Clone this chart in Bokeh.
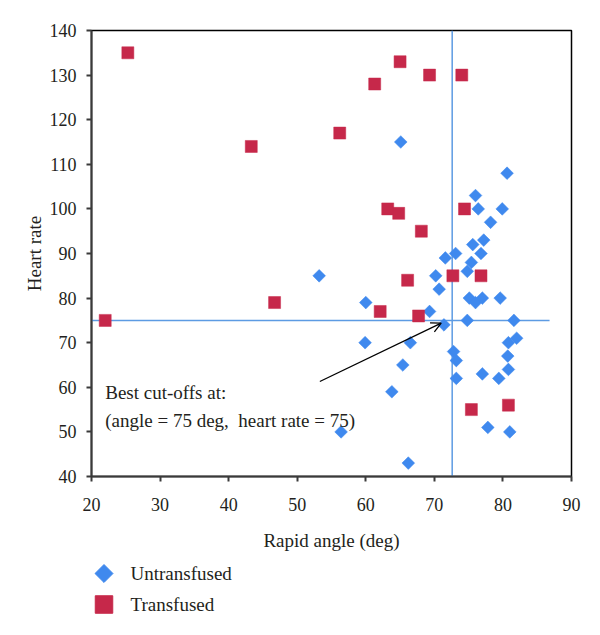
from bokeh.plotting import figure
from bokeh.layouts import column
from bokeh.models import (Label, Arrow, OpenHead, FixedTicker, ColumnDataSource,
                          Range1d)
from bokeh.core.properties import value
from bokeh.embed import file_html
from bokeh.resources import INLINE

# ---- data ----
untrans_angle = [65.1, 80.6, 76.0, 76.4, 79.9, 78.2, 77.2, 75.6, 76.8, 73.1,
                 71.6, 75.4, 74.8, 70.2, 53.2, 70.7, 75.1, 76.0, 77.0, 79.6,
                 60.0, 69.3, 71.4, 74.8, 81.6, 59.9, 66.5, 80.8, 82.0, 72.8,
                 73.2, 65.4, 80.7, 80.8, 77.0, 73.2, 79.4, 63.8, 77.8, 81.0,
                 56.4, 66.2]
untrans_hr = [115, 108, 103, 100, 100, 97, 93, 92, 90, 90,
              89, 88, 86, 85, 85, 82, 80, 79, 80, 80,
              79, 77, 74, 75, 75, 70, 70, 70, 71, 68,
              66, 65, 67, 64, 63, 62, 62, 59, 51, 50,
              50, 43]

trans_angle = [25.3, 43.3, 65.0, 61.3, 69.3, 74.0, 56.2, 63.2, 64.8, 68.1,
               74.4, 72.7, 76.8, 46.7, 66.1, 62.1, 67.7, 22.0, 75.4, 80.8]
trans_hr = [135, 114, 133, 128, 130, 130, 117, 100, 99, 95,
            100, 85, 85, 79, 84, 77, 76, 75, 55, 56]

series_names = ["Untransfused", "Transfused"]
cut_angle_drawn = 72.6
cut_hr = 75
hline_x_end = 86.8
x_ticks = [20, 30, 40, 50, 60, 70, 80, 90]
y_ticks = [40, 50, 60, 70, 80, 90, 100, 110, 120, 130, 140]
annot_line1 = "Best cut-offs at:"
annot_line2 = "(angle = 75 deg,\u00a0 heart rate = 75)"
arrow_from = (53.3, 61.3)
arrow_to = (71.0, 74.4)

FONT = "Liberation Serif"
TXT = "#231f20"
BLUE = "#3f89ee"
RED = "#c6284a"
LINE_BLUE = "#5d9be3"

W = 592
H_MAIN = 556
H_LEG = 71
B_LEFT = 91
B_RIGHT = 21

p = figure(width=W, height=H_MAIN, x_range=(20, 90), y_range=(40, 140),
           output_backend="svg", toolbar_location=None,
           min_border_left=B_LEFT, min_border_right=B_RIGHT, min_border_top=30,
           min_border_bottom=80)
p.xgrid.visible = False
p.ygrid.visible = False
p.outline_line_color = "black"
p.outline_line_width = 1.5
p.background_fill_color = "white"
p.border_fill_color = "white"

# cut-off lines (behind markers)
p.segment(x0=[cut_angle_drawn], y0=[y_ticks[0]], x1=[cut_angle_drawn], y1=[y_ticks[-1]],
          line_color=LINE_BLUE, line_width=1.5)
p.segment(x0=[x_ticks[0]], y0=[cut_hr], x1=[hline_x_end], y1=[cut_hr],
          line_color=LINE_BLUE, line_width=1.5)

src_u = ColumnDataSource(dict(x=untrans_angle, y=untrans_hr))
src_t = ColumnDataSource(dict(x=trans_angle, y=trans_hr))
p.scatter("x", "y", source=src_u, marker="square", size=9, angle=45,
          angle_units="deg", fill_color=BLUE, line_color=BLUE, line_width=0.5)
p.scatter("x", "y", source=src_t, marker="square", size=12,
          fill_color=RED, line_color=RED, line_width=0.5)

for ax in (p.xaxis[0], p.yaxis[0]):
    ax.axis_line_color = "#3a3a3a"
    ax.axis_line_width = 2
    ax.major_tick_line_color = "#3a3a3a"
    ax.major_tick_line_width = 2
    ax.major_tick_in = 0
    ax.major_tick_out = 5
    ax.minor_tick_line_color = None
    ax.major_label_text_font = FONT
    ax.major_label_text_font_size = "18px"
    ax.major_label_text_color = TXT
    ax.axis_label_text_font = FONT
    ax.axis_label_text_font_size = "19px"
    ax.axis_label_text_font_style = "normal"
    ax.axis_label_text_color = TXT

p.xaxis.ticker = FixedTicker(ticks=x_ticks)
p.yaxis.ticker = FixedTicker(ticks=y_ticks)
p.xaxis.axis_label = "Rapid angle (deg)"
p.yaxis.axis_label = "Heart rate"
p.xaxis.major_label_standoff = 16
p.xaxis.axis_label_standoff = 16
p.yaxis.major_label_standoff = 10
p.yaxis.axis_label_standoff = 2

# annotation
p.add_layout(Label(x=22.0, y=58.8, text=annot_line1, text_font=FONT,
                   text_font_size="19px", text_color=TXT,
                   text_baseline="alphabetic"))
p.add_layout(Label(x=22.0, y=52.6, text=annot_line2, text_font=FONT,
                   text_font_size="19px", text_color=TXT,
                   text_baseline="alphabetic"))
p.add_layout(Arrow(end=OpenHead(size=10, line_width=1.3, line_color="black"),
                   x_start=arrow_from[0], y_start=arrow_from[1],
                   x_end=arrow_to[0], y_end=arrow_to[1],
                   line_color="black", line_width=1.3))

# ---- legend panel (below the chart), ranges in page pixels ----
leg = figure(width=W, height=H_LEG,
             x_range=Range1d(B_LEFT, W - B_RIGHT), y_range=Range1d(H_LEG, 0),
             output_backend="svg", toolbar_location=None,
             min_border_left=B_LEFT, min_border_right=B_RIGHT,
             min_border_top=0, min_border_bottom=0)
leg.axis.visible = False
leg.grid.visible = False
leg.outline_line_color = None
leg.border_fill_color = "white"
leg.background_fill_color = "white"

leg_rows = [17, 48]           # row centres in the legend panel (px)
leg_marker_x = [103.5, 103.5]
leg_text_x = [130, 130]
leg.scatter(x=[leg_marker_x[0]], y=[leg_rows[0]], marker="square", size=12.7,
            angle=45, angle_units="deg", fill_color=BLUE, line_color=BLUE)
leg.scatter(x=[leg_marker_x[1]], y=[leg_rows[1]], marker="square", size=17.5,
            fill_color=RED, line_color=RED)
leg.text(x=leg_text_x, y=leg_rows, text=series_names, text_font=value(FONT),
         text_font_size="19px", text_color=TXT, text_baseline="middle",
         text_align="left")

layout = column(p, leg, spacing=0)
open("out.html", "w").write(file_html(layout, INLINE))
